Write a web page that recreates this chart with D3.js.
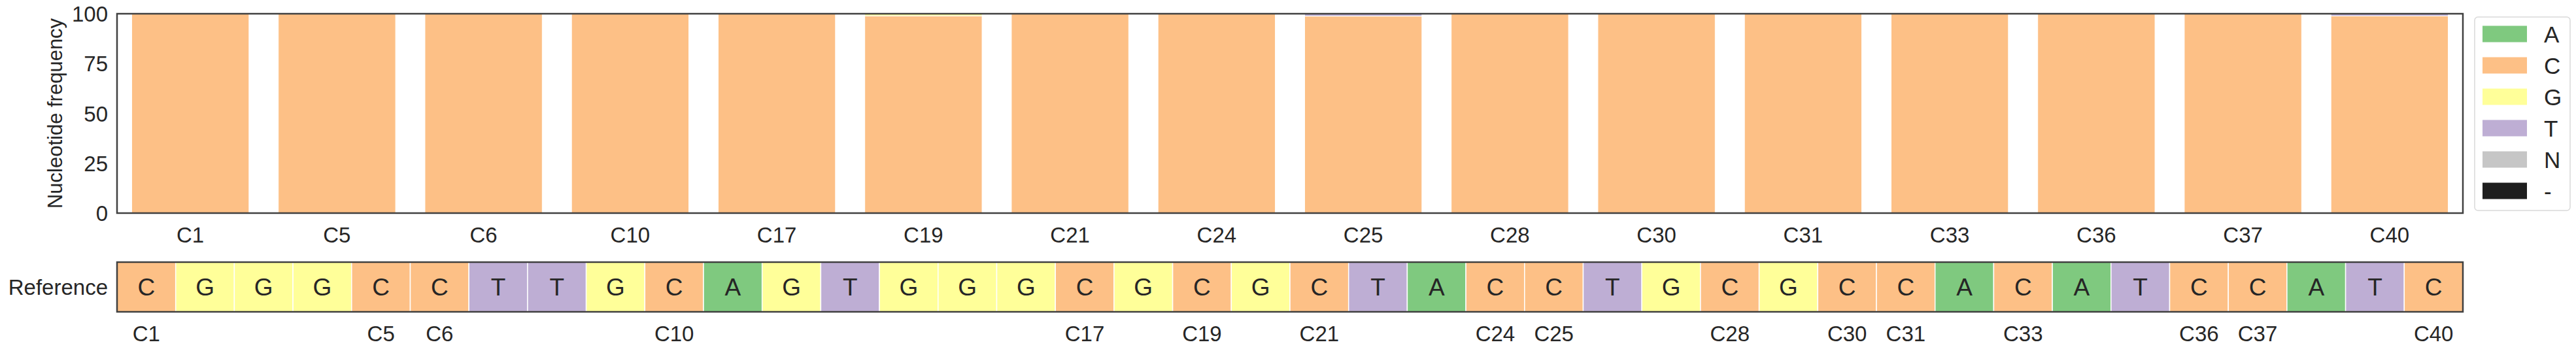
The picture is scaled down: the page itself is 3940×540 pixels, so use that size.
<!DOCTYPE html>
<html><head><meta charset="utf-8">
<script src="https://cdn.jsdelivr.net/npm/d3@7"></script>
<style>body{margin:0;background:#fff}svg{display:block}text{font-family:"Liberation Sans",Arial,sans-serif;fill:#262626}</style>
</head><body><svg id="c" width="3940" height="540"></svg>
<script>
const positions = ["C1","C5","C6","C10","C17","C19","C21","C24","C25","C28","C30","C31","C33","C36","C37","C40"];
const nucleotides = ["A","C","G","T","N","-"];
const freqA   = [0,0,0,0,0,0,0,0,0,0,0,0,0,0,0,0];
const freqC   = [100,100,100,100,100,98.9,100,100,98.8,100,100,100,100,100,100,98.9];
const freqG   = [0,0,0,0,0,1.1,0,0,0,0,0,0,0,0,0,0];
const freqT   = [0,0,0,0,0,0,0,0,1.2,0,0,0,0,0,0,1.1];
const freqN   = [0,0,0,0,0,0,0,0,0,0,0,0,0,0,0,0];
const freqGap = [0,0,0,0,0,0,0,0,0,0,0,0,0,0,0,0];
const yTicks = [0,25,50,75,100];
const refSeq = ["C","G","G","G","C","C","T","T","G","C","A","G","T","G","G","G","C","G","C","G","C","T","A","C","C","T","G","C","G","C","C","A","C","A","T","C","C","A","T","C"];
const refLabelIdx = [0,4,5,9,16,18,20,23,24,27,29,30,32,35,36,39];
const colors = ["#7fc97f","#fdc086","#ffff99","#beaed4","#c6c6c6","#1e1e1e"];

const svg = d3.select("#c");
const L = 179, R = 3767, T = 21, B = 326;
const rT = 401, rB = 477;
const spine = "#404040";

const x = d3.scaleBand().domain(positions).range([L, R]).paddingInner(0.2).paddingOuter(0.1);
const y = d3.scaleLinear().domain([0,100]).range([B, T]);
const color = d3.scaleOrdinal().domain(nucleotides).range(colors);

const table = positions.map((p,i)=>({pos:p, A:freqA[i], C:freqC[i], G:freqG[i], T:freqT[i], N:freqN[i], "-":freqGap[i]}));
const stack = d3.stack().keys(nucleotides)(table);

const g = svg.append("g");
g.selectAll("g.layer").data(stack).join("g").attr("fill", d=>color(d.key))
 .selectAll("rect").data(d=>d.filter(v=>v[1]-v[0]>0)).join("rect")
 .attr("x", d=>x(d.data.pos)).attr("width", x.bandwidth())
 .attr("y", d=>y(d[1])).attr("height", d=>y(d[0])-y(d[1]))
 .attr("stroke","#fff").attr("stroke-width",1);

// axes
const yAxis = d3.axisLeft(y).tickValues(yTicks).tickSize(0).tickPadding(14);
const ya = svg.append("g").attr("transform",`translate(${L},0)`).call(yAxis);
ya.select(".domain").remove();
ya.selectAll("text").style("font-size","33px").attr("dy","0.35em");

const xAxis = d3.axisBottom(x).tickSize(0).tickPadding(22);
const xa = svg.append("g").attr("transform",`translate(0,${B})`).call(xAxis);
xa.select(".domain").remove();
xa.selectAll("text").style("font-size","33px").attr("dy","0.71em");

svg.append("rect").attr("x",L).attr("y",T).attr("width",R-L).attr("height",B-T)
 .attr("fill","none").attr("stroke",spine).attr("stroke-width",2.5);

svg.append("text").attr("transform",`translate(84,${(T+B)/2}) rotate(-90)`)
 .attr("text-anchor","middle").attr("dy","0.35em").style("font-size","31px").text("Nucleotide frequency");

// reference track
const xr = d3.scaleBand().domain(d3.range(refSeq.length)).range([L,R]);
const rg = svg.append("g");
rg.selectAll("rect").data(refSeq).join("rect")
 .attr("x",(d,i)=>xr(i)).attr("width",xr.bandwidth()).attr("y",rT).attr("height",rB-rT)
 .attr("fill",d=>color(d)).attr("stroke","#fff").attr("stroke-width",1.5);
rg.selectAll("text").data(refSeq).join("text")
 .attr("x",(d,i)=>xr(i)+xr.bandwidth()/2).attr("y",(rT+rB)/2).attr("dy","0.36em")
 .attr("text-anchor","middle").style("font-size","37px").text(d=>d);
svg.append("rect").attr("x",L).attr("y",rT).attr("width",R-L).attr("height",rB-rT)
 .attr("fill","none").attr("stroke",spine).attr("stroke-width",2.5);
svg.append("text").attr("x",165).attr("y",(rT+rB)/2).attr("dy","0.36em").attr("text-anchor","end")
 .style("font-size","33px").text("Reference");
const xra = d3.axisBottom(xr).tickValues(refLabelIdx).tickFormat(i=>"C"+(i+1)).tickSize(0).tickPadding(22);
const xrg = svg.append("g").attr("transform",`translate(0,${rB})`).call(xra);
xrg.select(".domain").remove();
xrg.selectAll("text").style("font-size","33px").attr("dy","0.71em");

// legend
const lg = svg.append("g");
lg.append("rect").attr("x",3785).attr("y",26).attr("width",146).attr("height",296).attr("rx",5)
 .attr("fill","#fff").attr("stroke","#d9d9d9").attr("stroke-width",1.5);
const items = lg.selectAll("g.it").data(nucleotides).join("g").attr("transform",(d,i)=>`translate(0,${52+i*48})`);
items.append("rect").attr("x",3797).attr("y",-12.5).attr("width",68).attr("height",25).attr("fill",d=>color(d));
items.append("text").attr("x",3891).attr("y",0).attr("dy","0.36em").style("font-size","35px").text(d=>d);
</script></body></html>
